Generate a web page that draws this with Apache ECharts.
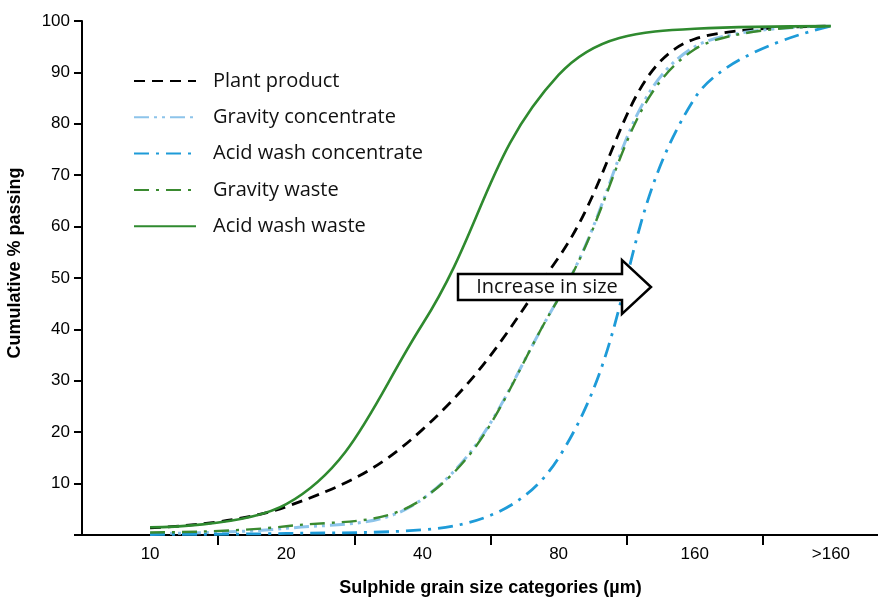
<!DOCTYPE html>
<html>
<head>
<meta charset="utf-8">
<script src="https://cdn.jsdelivr.net/npm/echarts@6/dist/echarts.min.js"></script>
<style>
  html, body { margin: 0; padding: 0; background: #fff; overflow: hidden; }
  #chart { width: 878px; height: 599px; }
</style>
</head>
<body>
<div id="chart"></div>
<script>
// Sulphide grain size categories (µm)
const categories = ['10', '20', '40', '80', '160', '>160'];

// Cumulative % passing for each product stream
const plantProduct = [1.4, 5.5, 20.5, 54, 96.5, 99];
const gravityConcentrate = [0.3, 1.3, 7, 46, 95, 99];
const acidWashConcentrate = [0.1, 0.3, 1, 15, 85, 99];
const gravityWaste = [0.5, 1.7, 7, 46, 94.5, 99];
const acidWashWaste = [1.5, 6, 41, 89.5, 98.5, 99];

const yTicks = [10, 20, 30, 40, 50, 60, 70, 80, 90, 100];

const LABEL_FONT = '"Liberation Sans", Arial, sans-serif';
const TEXT_FONT = '"Open Sans", "Noto Sans", sans-serif';

const chart = echarts.init(document.getElementById('chart'), null, { renderer: 'canvas' });

function lineSeries(name, data, color, dash, width) {
  return {
    name: name,
    type: 'line',
    data: data,
    smooth: 0.4,
    symbol: 'none',
    lineStyle: { color: color, width: width || 2.5, type: dash, cap: 'butt' },
    itemStyle: { color: color },
    emphasis: { disabled: true },
    z: 3
  };
}

const option = {
  animation: false,
  backgroundColor: '#ffffff',
  grid: {
    left: 82, top: 21, width: 817, height: 514,
    containLabel: false,
    outerBoundsMode: 'none'
  },
  legend: {
    orient: 'vertical',
    left: 133,
    top: 71,
    padding: 0,
    itemWidth: 62,
    itemHeight: 10,
    itemGap: 16.3,
    itemStyle: { opacity: 0, borderWidth: 0 },
    textStyle: { fontFamily: TEXT_FONT, fontSize: 20, color: '#111', padding: [0, 0, 0, 12] },
    data: ['Plant product', 'Gravity concentrate', 'Acid wash concentrate', 'Gravity waste', 'Acid wash waste']
  },
  xAxis: {
    type: 'category',
    data: categories,
    boundaryGap: true,
    name: 'Sulphide grain size categories (µm)',
    nameLocation: 'middle',
    nameGap: 44,
    nameTextStyle: { fontFamily: LABEL_FONT, fontSize: 18, fontWeight: 'bold', color: '#000' },
    axisLine: { lineStyle: { color: '#000', width: 2 } },
    axisTick: {
      show: true, length: 10,
      interval: function (index) { return index > 0; },
      lineStyle: { color: '#000', width: 2 }
    },
    axisLabel: { fontFamily: LABEL_FONT, fontSize: 17, color: '#000', margin: 11 },
    splitLine: { show: false }
  },
  yAxis: {
    type: 'value',
    min: 0,
    max: 100,
    interval: 10,
    name: 'Cumulative % passing',
    nameLocation: 'middle',
    nameGap: 58,
    nameTextStyle: {
      fontFamily: LABEL_FONT, fontSize: 18, fontWeight: 'bold', color: '#000',
      padding: [0, 0, 0, 30]
    },
    axisLine: { show: true, lineStyle: { color: '#000', width: 2 } },
    axisTick: { show: true, length: 8, lineStyle: { color: '#000', width: 2 } },
    axisLabel: {
      fontFamily: LABEL_FONT, fontSize: 17, color: '#000', margin: 12,
      formatter: function (v) { return yTicks.indexOf(v) >= 0 ? String(v) : ''; }
    },
    splitLine: { show: false }
  },
  series: [
    lineSeries('Plant product', plantProduct, '#000000', [11, 7], 2.8),
    lineSeries('Gravity concentrate', gravityConcentrate, '#8dc4ea', [15, 5, 3, 5, 3, 5], 3),
    lineSeries('Acid wash concentrate', acidWashConcentrate, '#1e9bd8', [15, 7, 3, 7], 2.8),
    lineSeries('Gravity waste', gravityWaste, '#3a8a30', [15, 7, 3, 7], 2.4),
    lineSeries('Acid wash waste', acidWashWaste, '#2f8a2f', 'solid', 2.6)
  ],
  graphic: [
    {
      type: 'polygon',
      z: 100,
      shape: {
        points: [[458, 274], [622, 274], [622, 260], [651, 287], [622, 314], [622, 300], [458, 300]]
      },
      style: { fill: '#ffffff', stroke: '#000000', lineWidth: 2.5, lineJoin: 'miter' }
    },
    {
      type: 'text',
      z: 101,
      x: 547,
      y: 287,
      style: {
        text: 'Increase in size',
        font: '20px ' + TEXT_FONT,
        fill: '#111',
        align: 'center',
        verticalAlign: 'middle'
      }
    }
  ]
};

chart.setOption(option);
</script>
</body>
</html>
